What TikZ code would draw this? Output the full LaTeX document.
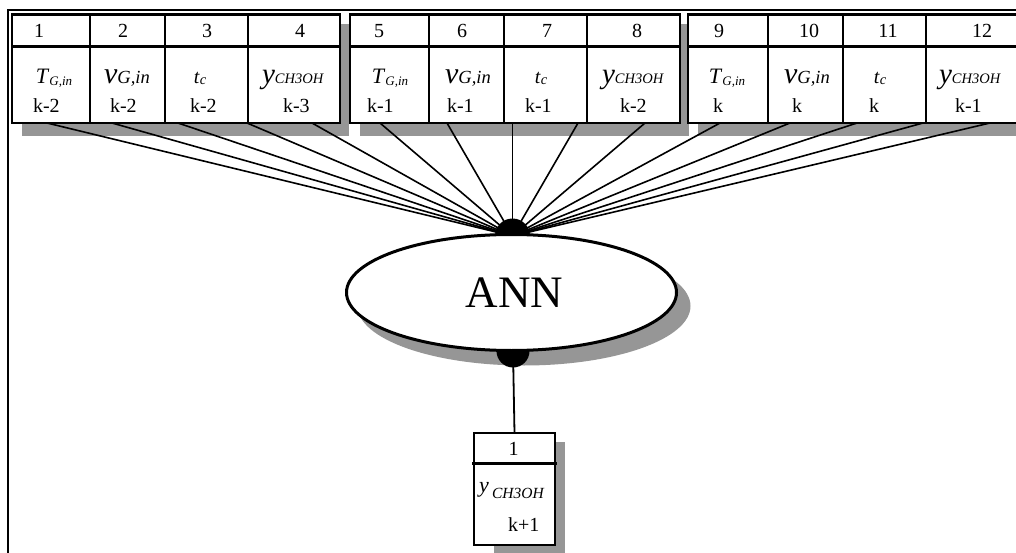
\documentclass[tikz,border=0pt]{standalone}
\usepackage{fontspec}
\setmainfont{Liberation Serif}
\usetikzlibrary{shapes.geometric}
\definecolor{shadowgray}{RGB}{150,150,150}
\newcommand{\varT}{{\fontsize{22}{24}\selectfont\textit{T}}\raisebox{-2pt}{\fontsize{13}{14}\selectfont\textit{G,in}}}
\newcommand{\varV}{{\fontsize{30}{32}\selectfont\textit{v}}{\fontsize{18.5}{20}\selectfont\textit{G,in}}}
\newcommand{\vart}{{\fontsize{20}{20}\selectfont\textit{t}}\raisebox{-1pt}{\fontsize{14.5}{15}\selectfont\textit{c}}}
\newcommand{\varY}{{\fontsize{29}{30}\selectfont\textit{y}}{\fontsize{14.5}{16}\selectfont\textit{CH3OH}}}
\tikzset{
  cellbox/.style={draw, line width=2.2pt, fill=white, inner sep=0pt, outer sep=0pt},
  numcell/.style={cellbox, minimum height=32pt},
  varcell/.style={cellbox, minimum height=76.5pt},
  plaintext/.style={inner sep=0pt, outer sep=0pt, font=\fontsize{20}{22}\selectfont},
  fanline/.style={line width=1.6pt},
}
\begin{document}
\begin{tikzpicture}[x=1pt, y=-1pt]
\useasboundingbox (0,0) rectangle (1016,553);
% outer frame
\draw[line width=2pt] (7.5,560) -- (7.5,10.5) -- (1030,10.5);
% group shadows
\fill[shadowgray] (22,24) rectangle (349,136);
\fill[shadowgray] (360,24) rectangle (689,136);
\fill[shadowgray] (698,24) rectangle (1040,136);
% cells
\foreach \i/\l/\r/\nx/\vx/\v/\ko/\k in {
  1/12/90/39/54/\varT/21/k-2,
  2/90/165/123/127/\varV/20/k-2,
  3/165/248/207/200/\vart/25/k-2,
  4/248/340/300/293/\varY/35/k-3,
  5/350/429/379/390/\varT/17/k-1,
  6/429/504/462/468/\varV/18/k-1,
  7/504/587/547/541/\vart/21/k-1,
  8/587/680/637/633/\varY/33/k-2,
  9/688/768/719/727/\varT/25/k,
  10/768/843/809/807/\varV/24/k,
  11/843/926/888/880/\vart/26/k,
  12/926/1018/982/970/\varY/29/k-1}{
  \pgfmathsetmacro{\w}{\r-\l}
  \node[numcell, minimum width=\w pt, anchor=north west] (num\i) at (\l,14.5) {};
  \node[varcell, minimum width=\w pt, anchor=north west] (cell\i) at (\l,46.5) {};
  \node[plaintext, anchor=base] (nt\i) at (\nx,38) {\i};
  \node[plaintext, anchor=base] (vt\i) at (\vx,84) {\v};
  \pgfmathsetmacro{\kx}{\l+\ko}
  \node[plaintext, anchor=base west] (kt\i) at (\kx,113) {\k};
}
% fan connectors
\coordinate (hub) at (512.5,236);
\foreach \j/\x in {1/47,2/112,3/178,4/247,5/312,6/380,7/447,8/512.5,9/578,10/645,11/720,12/790,13/857,14/923,15/990}{
  \coordinate (s\j) at (\x,123);
  \draw[fanline] (s\j) -- (hub);
}
% top dot
\fill (hub) ++(-17.5pt,0pt) arc[start angle=180, end angle=0, radius=17.5pt] -- cycle;
% ANN ellipse
\node[ellipse, fill=shadowgray, minimum width=333pt, minimum height=119pt, inner sep=0pt] (annshadow) at (524,306) {};
\node[ellipse, draw, line width=3pt, fill=white, minimum width=330pt, minimum height=116pt, inner sep=0pt,
  font=\fontsize{45}{48}\selectfont] (ann) at (511.5,292.5) {\raisebox{-3pt}{\hspace*{6pt}ANN}};
% bottom dot
\coordinate (hub2) at (513,351);
\fill (hub2) ++(-16.5pt,0pt) arc[start angle=180, end angle=360, radius=16.5pt] -- cycle;
% output box
\fill[shadowgray] (494,442) rectangle (565,560);
\node[numcell, minimum width=81pt, minimum height=30pt, anchor=north west] (o1) at (474,433) {};
\node[cellbox, minimum width=81pt, minimum height=82pt, anchor=north west] (o2) at (474,463) {};
\draw[line width=3pt] ([xshift=-2pt]o1.south west) -- ([xshift=2pt]o1.south east);
\draw[line width=1.8pt] (hub2) -- (o1.north);
\node[plaintext, anchor=base] (ont) at (513.5,455) {1};
\node[plaintext, anchor=base west] (ovt) at (479,492) {{\fontsize{22}{24}\selectfont\textit{y}}\,\raisebox{-6pt}{\fontsize{15.5}{17}\selectfont\textit{CH3OH}}};
\node[plaintext, anchor=base west] (okt) at (508,531) {k+1};
\end{tikzpicture}
\end{document}
